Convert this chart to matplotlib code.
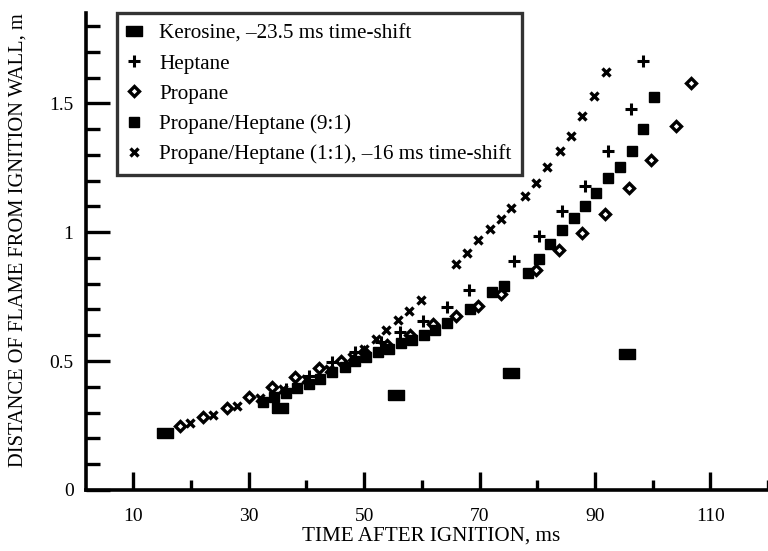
import matplotlib
matplotlib.use("Agg")
import matplotlib.pyplot as plt
from matplotlib.ticker import MultipleLocator

plt.rcParams['font.family'] = ['Liberation Serif', 'DejaVu Serif']

# Kerosine, -23.5 ms time-shift
ker_t = [15.5, 35.5, 55.5, 75.5, 95.5]
ker_d = [0.221, 0.318, 0.368, 0.453, 0.527]

# Heptane
hep_t = [36.5, 40.5, 44.5, 48.5, 52.9, 56.2, 60.2, 64.3, 68.1, 76.0, 80.3, 84.3, 88.3, 92.2, 96.2, 98.3]
hep_d = [0.39, 0.44, 0.496, 0.535, 0.574, 0.612, 0.655, 0.709, 0.775, 0.888, 0.984, 1.081, 1.178, 1.314, 1.477, 1.663]

# Propane
pro_t = [18.1, 22.1, 26.2, 30.0, 34.1, 38.1, 42.2, 46.0, 50.0, 54.0, 57.9, 61.9, 65.9, 69.8, 73.8,
         79.8, 83.8, 87.8, 91.7, 95.9, 99.8, 104.1, 106.6]
pro_d = [0.248, 0.283, 0.318, 0.360, 0.399, 0.438, 0.473, 0.500, 0.535, 0.562, 0.601, 0.643, 0.674, 0.713, 0.760,
         0.853, 0.930, 0.996, 1.070, 1.171, 1.279, 1.411, 1.578]

# Propane/Heptane (9:1)
ph91_t = [32.4, 34.4, 36.4, 38.4, 40.4, 42.4, 44.5, 46.6, 48.4, 50.3, 52.4, 54.3, 56.4, 58.3, 60.3, 62.2, 64.3,
          68.3, 72.2, 74.3, 78.4, 80.3, 82.2, 84.3, 86.4, 88.3, 90.2, 92.2, 94.3, 96.4, 98.3, 100.3]
ph91_d = [0.34, 0.36, 0.375, 0.395, 0.41, 0.43, 0.457, 0.477, 0.500, 0.516, 0.535, 0.547, 0.570, 0.581, 0.601,
          0.620, 0.647, 0.702, 0.767, 0.791, 0.841, 0.895, 0.953, 1.008, 1.054, 1.101, 1.151, 1.209, 1.252,
          1.314, 1.399, 1.523]

# Propane/Heptane (1:1), -16 ms time-shift
ph11_t = [19.8, 23.8, 27.9, 31.9, 35.9, 39.9, 43.9, 47.9, 50.0, 52.1, 53.8, 55.9, 57.8, 59.8,
          65.9, 67.8, 69.8, 71.9, 73.8, 75.5, 77.8, 79.8, 81.7, 84.0, 85.9, 87.8, 89.8, 91.9]
ph11_d = [0.260, 0.291, 0.326, 0.355, 0.39, 0.43, 0.47, 0.515, 0.545, 0.585, 0.620, 0.659, 0.694, 0.736,
          0.876, 0.919, 0.969, 1.012, 1.050, 1.093, 1.140, 1.190, 1.252, 1.314, 1.372, 1.450, 1.527, 1.620]

x_ticks = [10, 30, 50, 70, 90, 110]
y_ticks = [0, 0.5, 1, 1.5]
y_ticklabels = ['0', '0.5', '1', '1.5']

fig = plt.figure(figsize=(7.68, 5.51), dpi=100)
ax = fig.add_axes([0.112, 0.111, 0.888, 0.865])

rect = [(-1, -0.6), (1, -0.6), (1, 0.6), (-1, 0.6), (-1, -0.6)]
ax.plot(ker_t, ker_d, linestyle='none', marker=rect, markersize=11.5, color='black',
        label='Kerosine, \u201323.5 ms time-shift')
ax.plot(hep_t, hep_d, linestyle='none', marker='+', markersize=8, markeredgewidth=2.2, color='black',
        label='Heptane')
ax.plot(pro_t, pro_d, linestyle='none', marker='D', markersize=5.6, markeredgewidth=2.4,
        markerfacecolor='white', markeredgecolor='black', label='Propane')
ax.plot(ph91_t, ph91_d, linestyle='none', marker='s', markersize=7, color='black',
        label='Propane/Heptane (9:1)')
ax.plot(ph11_t, ph11_d, linestyle='none', marker='x', markersize=5.5, markeredgewidth=2.4, color='black',
        label='Propane/Heptane (1:1), \u201316 ms time-shift')

ax.set_xlim(1.8, 120)
ax.set_ylim(0, 1.85)
ax.set_xticks(x_ticks)
ax.xaxis.set_minor_locator(MultipleLocator(10))
ax.set_yticks(y_ticks)
ax.set_yticklabels(y_ticklabels)
ax.yaxis.set_minor_locator(MultipleLocator(0.1))

for s in ['top', 'right']:
    ax.spines[s].set_visible(False)
for s in ['left', 'bottom']:
    ax.spines[s].set_linewidth(2.6)

ax.tick_params(axis='both', which='both', direction='in', width=2.4, labelsize=14)
ax.tick_params(axis='x', which='major', length=13, pad=13)
ax.tick_params(axis='x', which='minor', length=7)
ax.tick_params(axis='y', which='major', length=17, pad=9)
ax.tick_params(axis='y', which='minor', length=10)

fig.text(431 / 768, 1 - 536 / 551, 'TIME AFTER IGNITION, ms', fontsize=15.2, ha='center', va='center')
fig.text(18 / 768, 1 - 240 / 551, 'DISTANCE OF FLAME FROM IGNITION WALL, m', fontsize=14.8,
         ha='center', va='center', rotation=90)

leg = ax.legend(loc='upper left', bbox_to_anchor=((117 - 86) / 682, 1.0), fontsize=15.2, frameon=True,
                fancybox=False, edgecolor='black', borderpad=0.5, labelspacing=0.49,
                handlelength=0.6, handletextpad=0.9, borderaxespad=0.0)
leg.get_frame().set_linewidth(2.4)

fig.savefig('out.png', dpi=100)
